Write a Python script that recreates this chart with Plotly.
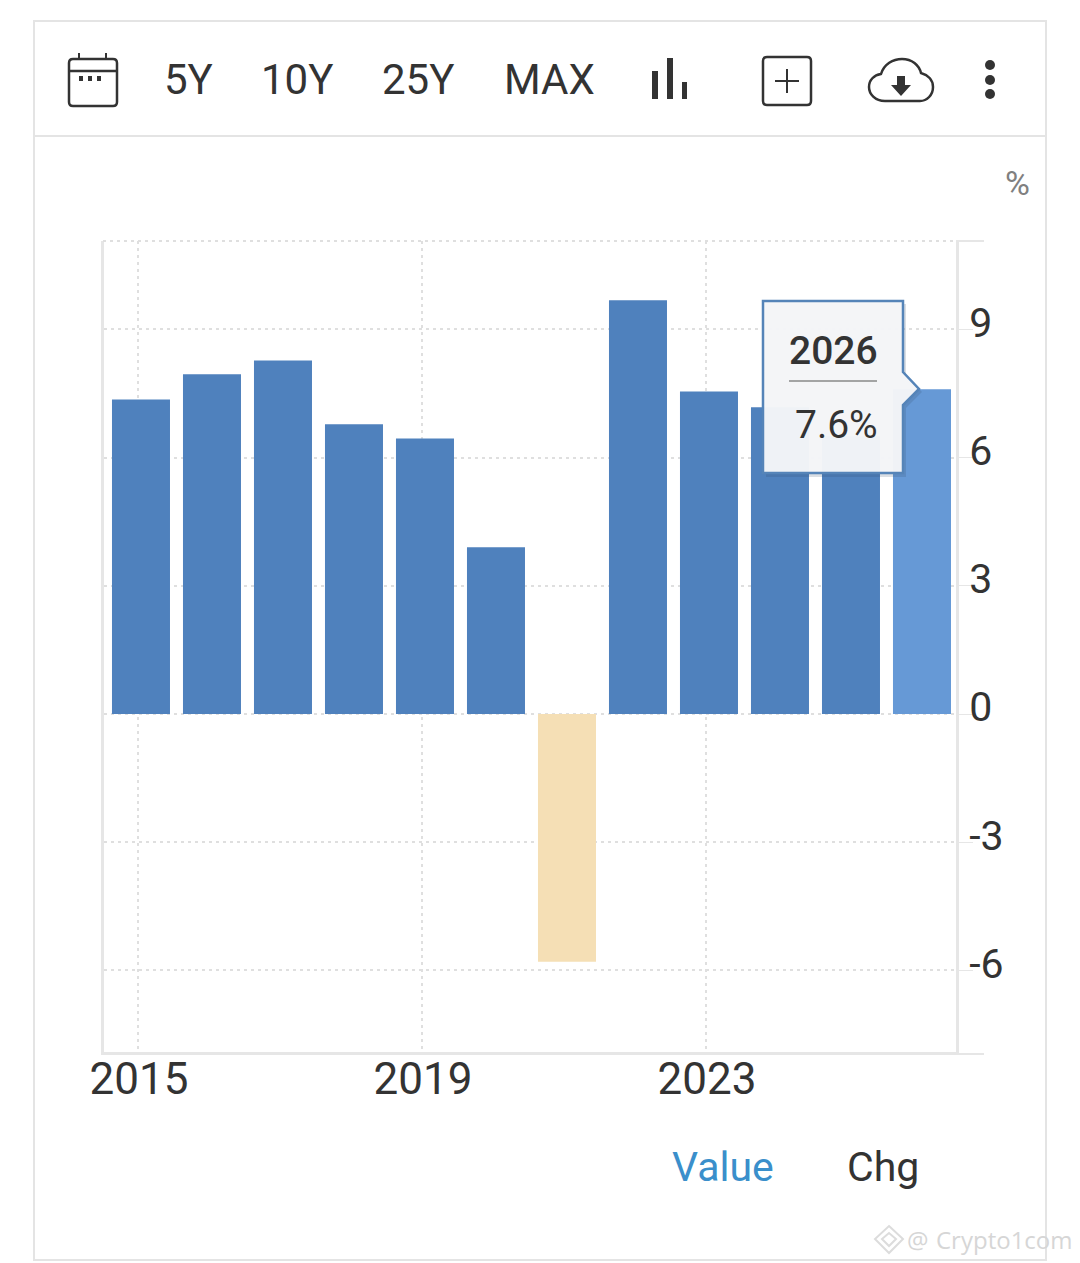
import plotly.graph_objects as go

years = [2015, 2016, 2017, 2018, 2019, 2020, 2021, 2022, 2023, 2024, 2025, 2026]
values = [7.36, 7.95, 8.27, 6.78, 6.45, 3.9, -5.8, 9.68, 7.55, 7.18, 6.5, 7.6]
bar_colors = ["#4f81bd"] * 6 + ["#f5dfb5"] + ["#4f81bd"] * 4 + ["#6699d6"]
x_ticks = [2015, 2019, 2023]
y_ticks = [-6, -3, 0, 3, 6, 9]
toolbar_labels = ["5Y", "10Y", "25Y", "MAX"]
tabs = ["Value", "Chg"]
tooltip_title = "2026"
tooltip_value = "7.6%"

W, H = 1080, 1263
def X(p): return p / W
def Y(p): return 1 - p / H
GRID = "#dfdfdf"
AX = "#e6e6e6"
INK = "#333333"
DOT = "3px,4px"

def path(cmds):
    out = []
    for c in cmds:
        if isinstance(c, str):
            out.append(c)
        else:
            out.append(f"{X(c[0]):.5f},{Y(c[1]):.5f}")
    return " ".join(out)

shapes = []
def add_path(cmds, **kw):
    d = dict(type="path", xref="paper", yref="paper", path=path(cmds))
    line = kw.pop("line", dict(width=0))
    shapes.append(dict(d, line=line, **kw))
def add_line(x0, y0, x1, y1, color=INK, width=2, dash="solid"):
    shapes.append(dict(type="line", xref="paper", yref="paper", x0=X(x0), x1=X(x1), y0=Y(y0), y1=Y(y1),
                       line=dict(color=color, width=width, dash=dash)))
def add_rect(x0, y0, x1, y1, color=None, width=2, fill=None):
    shapes.append(dict(type="rect", xref="paper", yref="paper", x0=X(x0), x1=X(x1), y0=Y(y0), y1=Y(y1),
                       line=dict(color=color or "rgba(0,0,0,0)", width=width if color else 0),
                       fillcolor=fill or "rgba(0,0,0,0)"))
def add_round(x0, y0, x1, y1, r, color=INK, width=2.5):
    add_path(["M", (x0 + r, y0), "L", (x1 - r, y0), "Q", (x1, y0), (x1, y0 + r), "L", (x1, y1 - r),
              "Q", (x1, y1), (x1 - r, y1), "L", (x0 + r, y1), "Q", (x0, y1), (x0, y1 - r), "L", (x0, y0 + r),
              "Q", (x0, y0), (x0 + r, y0), "Z"], line=dict(color=color, width=width))
def add_dot(cx, cy, r, fill=INK):
    shapes.append(dict(type="circle", xref="paper", yref="paper", x0=X(cx - r), x1=X(cx + r), y0=Y(cy - r), y1=Y(cy + r),
                       line=dict(width=0), fillcolor=fill))

# outer frame and toolbar divider
add_rect(34, 21, 1046, 1260, color="#e4e4e4", width=2)
add_line(34, 136, 1046, 136, color="#e4e4e4", width=2)

# axis box extras
add_line(103, 241, 956, 241, color=GRID, width=2, dash=DOT)
add_line(956, 241, 984, 241, color=AX, width=2)
add_line(956, 1054, 984, 1054, color=AX, width=2)

# calendar icon
add_round(69, 59, 117, 106, 4, width=2.5)
add_line(69, 71, 117, 71, width=2.5)
add_line(79, 53, 79, 60, width=2)
add_line(106, 53, 106, 60, width=2)
for dx in (81, 90, 99):
    add_rect(dx - 2, 76, dx + 2, 81, fill=INK)

# bars icon
add_rect(652, 71, 658, 99, fill=INK)
add_rect(667, 58, 673, 99, fill=INK)
add_rect(682, 82, 687, 99, fill=INK)

# plus icon
add_round(763, 57, 811, 105, 4, width=2.5)
add_line(787, 69, 787, 93, width=2)
add_line(775, 81, 799, 81, width=2)

# cloud icon
add_path(["M", (885, 101), "C", (875, 101), (869, 94), (869, 87), "C", (869, 80), (874, 75), (881, 74),
          "C", (884, 64), (893, 59), (902, 59), "C", (912, 59), (919, 65), (921, 73),
          "C", (928, 75), (933, 80), (933, 87), "C", (933, 95), (927, 101), (920, 101), "Z"],
         line=dict(color=INK, width=2.5))
add_path(["M", (897, 76), "L", (905, 76), "L", (905, 85), "L", (911, 85), "L", (901, 96), "L", (891, 85), "L", (897, 85), "Z"],
         fillcolor=INK)

# kebab icon
for cy in (65, 80, 94):
    add_dot(990, cy, 5)

# tooltip
tip = ["M", (763, 301), "L", (903, 301), "L", (903, 372), "L", (919, 389), "L", (903, 405), "L", (903, 473), "L", (763, 473), "Z"]
tip_shadow = ["M", (766, 304), "L", (906, 304), "L", (906, 375), "L", (922, 392), "L", (906, 408), "L", (906, 477), "L", (766, 477), "Z"]
add_path(tip_shadow, fillcolor="rgba(50,70,100,0.18)")
add_path(tip, fillcolor="rgba(245,246,248,0.97)", line=dict(color="#5584b8", width=2.5))
add_line(789, 381, 877, 381, color="#888888", width=1.5)

# watermark logo
add_path(["M", (889, 1226), "L", (903, 1239), "L", (889, 1253), "L", (875, 1239), "Z"], line=dict(color="#dcdcdc", width=2))
add_path(["M", (882, 1239), "L", (889, 1233), "L", (896, 1239), "L", (889, 1246), "Z"], line=dict(color="#dcdcdc", width=2))

annotations = []
def text(s, x, y, size, color=INK, family="Roboto", weight=None, anchor="center"):
    annotations.append(dict(text=s, xref="paper", yref="paper", x=X(x), y=Y(y), xanchor=anchor, yanchor="middle",
                            showarrow=False, font=dict(family=family, size=size, color=color, weight=weight)))

for label, cx in zip(toolbar_labels, (188.5, 297, 418, 549)):
    text(label, cx, 80, 42)
text("%", 1017, 183, 34, color="#808080")
text(tabs[0], 723, 1167, 41, color="#3a8fcb")
text(tabs[1], 883, 1167, 41)
text(tooltip_title, 833, 351, 39, weight=500)
text(tooltip_value, 836, 425, 39)
text("@", 918, 1239, 24, color="#d6d6d6", family="Open Sans")
text("Crypto1com", 1004, 1239, 24, color="#d6d6d6", family="Open Sans")

bar_width = 0.817
fig = go.Figure(go.Bar(x=years, y=values, marker=dict(color=bar_colors, line=dict(width=0)),
                       width=bar_width, offset=-bar_width / 2 + 0.042, hoverinfo="skip"))

fig.update_layout(
    width=W, height=H, margin=dict(l=0, r=0, t=0, b=0, pad=0, autoexpand=False), autosize=False,
    paper_bgcolor="white", plot_bgcolor="white", showlegend=False,
    shapes=shapes, annotations=annotations, hovermode=False,
    xaxis=dict(domain=[X(104), X(956)], range=[2015 - 34 / 71, 2015 + 818 / 71], tickmode="array",
               tickvals=x_ticks, ticktext=[str(v) for v in x_ticks], showgrid=True, gridcolor=GRID, gridwidth=2,
               griddash=DOT, zeroline=False, showline=True, linecolor=AX, linewidth=3, ticks="",
               tickfont=dict(family="Roboto", size=44, color=INK), ticklabelstandoff=-14, ticklabelshift=1,
               fixedrange=True),
    yaxis=dict(domain=[Y(1052), Y(241)], range=[-338 / 42.73, 473 / 42.73], side="right", tickmode="array",
               tickvals=y_ticks, ticktext=[str(v) for v in y_ticks], showgrid=True, gridcolor=GRID, gridwidth=2,
               griddash=DOT, zeroline=False, showline=True, mirror=True, linecolor=AX, linewidth=3,
               ticks="outside", ticklen=14, tickwidth=1, tickcolor=AX,
               tickfont=dict(family="Roboto", size=41, color=INK), ticklabelshift=-7, ticklabelstandoff=-12,
               fixedrange=True),
)

fig.write_html("out.html", config=dict(displayModeBar=False),
               post_script="document.body.style.margin='0';document.body.style.overflow='hidden';")
